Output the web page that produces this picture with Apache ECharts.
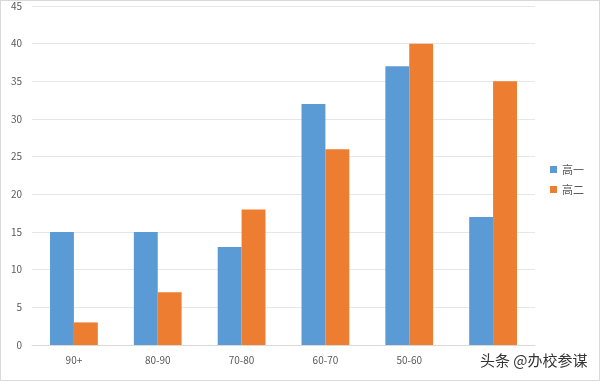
<!DOCTYPE html>
<html><head><meta charset="utf-8">
<script src="https://cdn.jsdelivr.net/npm/echarts@6/dist/echarts.min.js"></script>
<style>html,body{margin:0;padding:0;background:#fff}#c{width:600px;height:381px;box-sizing:border-box;border:1px solid #d9d9d9}</style>
</head><body><div id="c"></div>
<script>
var categories = ['90+', '80-90', '70-80', '60-70', '50-60', ''];
var grade1 = [15, 15, 13, 32, 37, 17];
var grade2 = [3, 7, 18, 26, 40, 35];
var seriesNames = ['高一', '高二'];
var chart = echarts.init(document.getElementById('c'));
var font = '"Noto Sans CJK SC", "Liberation Sans", sans-serif';
chart.setOption({
  animation: false,
  textStyle: {fontFamily: font},
  grid: {left: 31, right: 64, top: 4, bottom: 35},
  legend: {
    orient: 'vertical', left: 544, top: 158, itemWidth: 7, itemHeight: 7, itemGap: 9,
    icon: 'rect', textStyle: {color: '#595959', fontSize: 11, fontFamily: font},
    data: seriesNames
  },
  xAxis: {
    type: 'category', data: categories,
    axisLine: {lineStyle: {color: '#d9d9d9'}}, axisTick: {show: false},
    axisLabel: {color: '#595959', fontSize: 10, margin: 10}
  },
  yAxis: {
    type: 'value', min: 0, max: 45, interval: 5,
    axisLine: {show: false}, axisTick: {show: false},
    axisLabel: {color: '#595959', fontSize: 10, margin: 10},
    splitLine: {lineStyle: {color: '#e6e6e6'}}
  },
  series: [
    {name: seriesNames[0], type: 'bar', data: grade1, barGap: '0%', barCategoryGap: '43%', itemStyle: {color: '#5b9bd5'}},
    {name: seriesNames[1], type: 'bar', data: grade2, itemStyle: {color: '#ed7d31'}}
  ],
  graphic: [{
    type: 'text', left: 479, top: 352,
    style: {text: '头条 @办校参谋', fill: '#333', fontSize: 15, fontFamily: font}
  }]
});
</script></body></html>
